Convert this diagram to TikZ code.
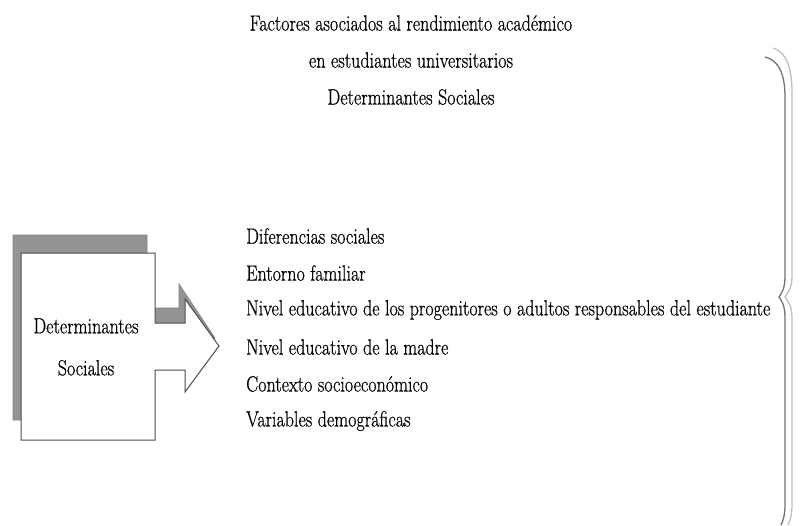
\documentclass[tikz,border=0pt]{standalone}
\usepackage{graphicx}
\usepackage{fontspec}
\setmainfont{Latin Modern Roman}[FakeBold=0.7]
\newcommand{\xsq}{0.82}
\newcommand{\narrow}[1]{\scalebox{\xsq}[1]{#1}}
\begin{document}
\begin{tikzpicture}[x=1pt,y=-1pt,
  txt/.style={inner sep=0pt,font=\fontsize{22}{26}\selectfont,text=black},
  listitem/.style={txt,anchor=west},
  shadowpart/.style={fill=black!42,draw=black!50,line width=0.6pt},
  frontpart/.style={fill=white,draw=black!70,line width=1pt,line join=miter},
  bracedark/.style={draw=black!55,line width=1.3pt},
  bracelight/.style={draw=black!25,line width=1.3pt}]
\useasboundingbox[fill=white] (0,0) rectangle (800,525);

% title
\node[txt] (t1) at (411,23) {\narrow{Factores asociados al rendimiento académico}};
\node[txt] (t2) at (411,60) {\narrow{en estudiantes universitarios}};
\node[txt] (t3) at (411,97) {\narrow{Determinantes Sociales}};

% block arrow: raised shadow behind, then the white front face
\path[shadowpart] (13,235) -- (147,235) -- (147,308) -- (179,308) -- (179,284)
  -- (215,338) -- (200,360) -- (147,360) -- (147,420) -- (13,420) -- cycle;
\path[frontpart] (21,253) -- (155,253) -- (155,323) -- (185,323) -- (185,299)
  -- (219,346) -- (185,392) -- (185,370) -- (155,370) -- (155,440) -- (21,440) -- cycle;
\node[txt,align=center] (box) at (86,347) {\narrow{Determinantes}\\[16pt]\narrow{Sociales}};

% list of factors
\node[listitem] (l1) at (246,236) {\narrow{Diferencias sociales}};
\node[listitem] (l2) at (246,273) {\narrow{Entorno familiar}};
\node[listitem] (l3) at (246,310) {\narrow{Nivel educativo de los progenitores o adultos responsables del estudiante}};
\node[listitem] (l4) at (246,347) {\narrow{Nivel educativo de la madre}};
\node[listitem] (l5) at (246,384) {\narrow{Contexto socioeconómico}};
\node[listitem] (l6) at (246,421) {\narrow{Variables demográficas}};

% brace on the right (double stroke)
\draw[bracelight] (773,48) .. controls (787,52) and (792,70) .. (792,92)
  -- (792,276) .. controls (792,288) and (788,293) .. (785,297)
  .. controls (788,301) and (792,306) .. (792,318)
  -- (792,505) .. controls (792,515) and (790,521) .. (788,525);
\draw[bracedark] (765,57) .. controls (779,60) and (785,75) .. (785,97)
  -- (785,276) .. controls (785,288) and (782,293) .. (779,297)
  .. controls (782,301) and (785,306) .. (785,318)
  -- (785,505) .. controls (785,515) and (783,521) .. (781,525);
\end{tikzpicture}
\end{document}
